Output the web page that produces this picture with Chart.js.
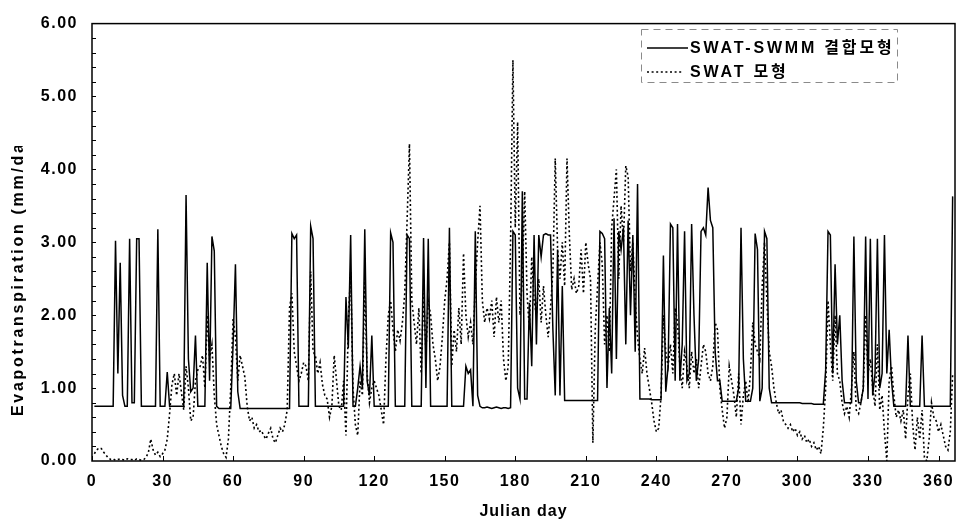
<!DOCTYPE html>
<html>
<head>
<meta charset="utf-8">
<script src="https://cdn.jsdelivr.net/npm/chart.js@4.4.0/dist/chart.umd.min.js"></script>
<style>
html, body { margin: 0; padding: 0; background: #fff; }
</style>
</head>
<body>
<canvas id="et" width="964" height="531"></canvas>
<script>
const seriesNames = ['SWAT-SWMM 결합모형', 'SWAT 모형'];
const xTickValues = [0, 30, 60, 90, 120, 150, 180, 210, 240, 270, 300, 330, 360];
const yTickValues = [0, 1, 2, 3, 4, 5, 6];

// daily values, Julian day 1..366
const etCoupled = [
    0.75,0.75,0.75,0.75,0.75,0.75,0.75,0.75,0.75,3.02,
    1.2,2.72,0.9,0.75,0.75,3.05,0.8,0.8,3.05,3.05,
    0.75,0.75,0.75,0.75,0.75,0.75,0.75,3.18,0.75,0.75,
    0.75,1.22,0.75,0.75,0.75,0.75,0.75,0.75,0.75,3.65,
    1.4,0.95,1.0,1.72,0.75,0.75,0.75,0.75,2.72,1.1,
    3.08,2.88,0.75,0.72,0.72,0.72,0.72,0.72,0.72,1.6,
    2.7,0.95,0.72,0.72,0.72,0.72,0.72,0.72,0.72,0.72,
    0.72,0.72,0.72,0.72,0.72,0.72,0.72,0.72,0.72,0.72,
    0.72,0.72,0.72,0.72,3.12,3.05,3.1,0.75,0.75,0.75,
    0.75,0.75,3.22,3.05,0.75,0.75,0.75,0.75,0.75,0.75,
    0.75,0.75,0.75,0.75,0.75,0.75,0.75,2.25,1.55,3.1,
    0.75,0.75,1.0,1.3,1.0,3.18,1.1,0.9,1.72,0.75,
    0.75,0.75,0.75,0.75,0.75,0.75,3.13,3.0,0.75,0.75,
    0.75,0.75,0.75,3.1,3.05,0.75,0.75,0.75,0.75,0.75,
    3.06,1.0,3.05,0.75,0.75,0.75,0.75,0.75,0.75,0.75,
    0.75,3.2,0.75,0.75,0.75,0.75,0.75,0.75,1.3,1.2,
    1.25,0.75,3.15,0.9,0.75,0.73,0.73,0.74,0.73,0.72,
    0.73,0.74,0.73,0.72,0.73,0.73,0.72,0.73,3.15,3.1,
    1.0,0.85,3.7,0.85,0.85,2.17,1.3,3.1,1.6,3.1,
    2.8,3.1,3.12,3.1,3.1,1.8,0.9,2.9,0.9,2.4,
    0.83,0.83,0.83,0.83,0.83,0.83,0.83,0.83,0.83,0.83,
    0.83,0.83,0.83,0.83,0.83,3.15,3.12,3.05,1.0,2.1,
    1.2,3.33,1.4,3.15,2.9,3.2,1.6,3.3,2.0,3.1,
    1.5,3.8,0.85,0.85,0.85,0.85,0.85,0.84,0.84,0.84,
    0.84,0.84,2.82,0.95,1.3,3.25,3.2,1.1,3.25,1.1,
    1.6,3.15,1.1,1.2,3.25,2.0,1.1,1.4,3.15,3.2,
    3.1,3.75,3.3,3.2,1.5,1.1,1.1,0.82,0.82,0.82,
    0.82,0.82,0.82,0.82,1.0,3.2,1.4,0.82,0.82,0.82,
    1.0,3.12,2.9,0.82,1.0,3.15,3.05,1.0,0.8,0.8,
    0.8,0.8,0.8,0.8,0.8,0.8,0.8,0.8,0.8,0.8,
    0.8,0.79,0.79,0.79,0.79,0.79,0.78,0.78,0.78,0.78,
    0.78,1.25,3.15,3.1,1.2,2.7,1.6,2.0,1.1,0.8,
    0.8,0.8,0.8,3.08,1.1,0.8,0.8,1.0,3.08,0.85,
    3.05,0.9,1.2,3.05,1.0,1.2,3.1,1.2,1.8,1.1,
    0.75,0.75,0.75,0.75,0.75,0.75,1.72,0.75,0.75,0.75,
    0.75,0.75,1.72,0.75,0.75,0.75,0.75,0.75,0.75,0.75,
    0.75,0.75,0.75,0.75,0.75,3.63
];

const etSwat = [
    0.1,0.15,0.18,0.17,0.12,0.08,0.04,0.02,0.03,0.01,
    0.02,0.03,0.02,0.01,0.03,0.02,0.02,0.01,0.03,0.02,
    0.01,0.02,0.05,0.12,0.3,0.15,0.08,0.12,0.06,0.1,
    0.15,0.3,0.65,1.05,1.2,0.9,1.2,0.95,0.7,1.3,
    1.0,0.55,0.6,1.1,1.25,1.3,1.45,1.0,2.0,1.4,
    1.6,0.9,0.5,0.35,0.2,0.1,0.05,0.3,1.0,1.95,
    1.7,1.1,1.45,1.3,1.15,0.75,0.55,0.6,0.45,0.5,
    0.4,0.42,0.35,0.3,0.38,0.45,0.3,0.25,0.35,0.45,
    0.4,0.5,0.7,2.1,2.3,1.5,1.3,1.1,1.2,1.35,
    1.3,1.1,2.6,1.5,1.45,1.2,1.35,1.05,0.9,0.85,
    0.6,0.75,1.45,1.1,0.75,0.7,1.1,0.35,1.9,2.6,
    1.0,0.5,0.35,1.1,0.9,2.5,1.2,0.8,1.0,1.1,
    1.0,0.9,0.7,0.5,1.4,2.0,2.2,1.8,1.5,1.8,
    1.65,1.9,2.3,3.3,4.35,2.2,1.9,1.6,2.1,1.2,
    2.3,1.5,2.2,2.0,1.6,1.4,1.1,1.3,1.7,2.2,
    2.5,3.0,1.3,1.8,1.5,2.1,1.6,2.85,2.0,1.7,
    1.9,1.6,2.4,3.0,3.5,2.2,1.9,2.1,1.95,2.2,
    1.7,2.25,1.9,2.2,1.4,1.1,1.3,3.0,5.5,3.2,
    4.65,2.0,2.5,3.7,2.3,1.8,2.8,2.2,2.0,2.5,
    1.9,2.4,2.0,1.7,2.1,2.6,4.15,2.9,2.5,3.0,
    2.4,4.15,3.1,2.35,2.5,2.3,2.4,2.9,2.3,3.0,
    2.7,2.5,0.25,1.8,2.4,3.0,2.7,1.6,2.0,1.5,
    3.2,3.6,4.0,2.5,3.5,3.0,4.05,3.9,2.6,3.0,
    2.2,1.7,1.4,1.2,1.55,1.2,1.0,0.8,0.55,0.4,
    0.45,0.9,2.0,1.5,1.3,1.6,1.2,2.1,1.9,1.3,
    1.0,1.5,1.3,1.0,1.5,1.2,1.4,1.0,1.3,1.6,
    1.5,1.2,1.1,1.3,1.9,1.8,1.0,0.7,0.45,0.6,
    1.3,1.1,0.9,0.6,1.2,0.5,0.9,1.1,0.8,1.2,
    1.9,1.6,1.5,1.4,2.4,3.0,2.2,1.5,1.3,1.0,
    0.8,0.65,0.7,0.55,0.5,0.45,0.5,0.4,0.45,0.35,
    0.4,0.3,0.35,0.25,0.3,0.2,0.25,0.15,0.2,0.1,
    0.45,1.0,2.2,1.6,1.1,2.0,1.2,1.1,0.8,0.65,
    0.75,0.6,1.0,1.5,0.7,0.65,0.8,1.0,2.0,1.2,
    1.4,1.0,0.75,1.6,0.7,0.9,0.4,0.0,1.1,1.3,
    0.9,0.6,0.7,0.55,0.7,0.3,0.9,1.2,0.5,0.15,
    0.6,0.3,0.7,0.05,0.0,0.3,0.8,0.6,0.55,0.4,
    0.5,0.35,0.2,0.15,0.4,1.2
];

const toPoints = arr => arr.map((v, i) => ({ x: i + 1, y: v }));

const boldSans = '"Liberation Sans", Arial, "Noto Sans CJK KR", sans-serif';
const boldNarrow = '"Liberation Sans Narrow", "Arial Narrow", "Liberation Sans", Arial, sans-serif';

// frame, inner tick marks, axis titles and the boxed legend
const decor = {
    id: 'decor',
    beforeDraw(chart) {
        const ctx = chart.ctx;
        ctx.letterSpacing = '1.5px';
        ctx.fillStyle = '#fff';
        ctx.fillRect(0, 0, chart.width, chart.height);
    },
    afterDraw(chart) {
        const ctx = chart.ctx;
        const a = chart.chartArea;
        const xs = chart.scales.x, ys = chart.scales.y;
        ctx.save();
        ctx.strokeStyle = '#000';
        ctx.lineWidth = 1.5;
        ctx.setLineDash([]);
        ctx.strokeRect(a.left, a.top, a.right - a.left, a.bottom - a.top);

        ctx.lineWidth = 1;
        ctx.beginPath();
        for (let v = 0.2; v < 6; v += 0.2) {
            const y = Math.round(ys.getPixelForValue(v)) + 0.5;
            ctx.moveTo(a.left, y);
            ctx.lineTo(a.left + 4, y);
        }
        xTickValues.forEach(v => {
            const x = Math.round(xs.getPixelForValue(v)) + 0.5;
            ctx.moveTo(x, a.bottom);
            ctx.lineTo(x, a.bottom - 5);
        });
        ctx.stroke();

        ctx.fillStyle = '#000';
        ctx.letterSpacing = '1px';
        ctx.font = 'bold 16px ' + boldNarrow;
        ctx.textAlign = 'center';
        ctx.textBaseline = 'middle';
        ctx.fillText('Julian day', (a.left + a.right) / 2, 512);

        // the y title is cut off at the top, as in the source figure
        ctx.save();
        ctx.beginPath();
        ctx.rect(0, 146, 60, 400);
        ctx.clip();
        ctx.translate(19, 416);
        ctx.rotate(-Math.PI / 2);
        ctx.letterSpacing = '2.7px';
        ctx.font = 'bold 16px ' + boldSans;
        ctx.textAlign = 'left';
        ctx.fillText('Evapotranspiration (mm/day)', 0, 0);
        ctx.restore();

        // legend box
        ctx.strokeStyle = '#8a8a8a';
        ctx.lineWidth = 1;
        ctx.setLineDash([7, 5]);
        ctx.strokeRect(641.5, 29.5, 256, 53);

        const rows = [48, 72];
        ctx.font = 'bold 16px ' + boldSans;
        ctx.letterSpacing = '2.8px';
        ctx.textAlign = 'left';
        chart.data.datasets.forEach((ds, i) => {
            const y = rows[i];
            ctx.strokeStyle = ds.borderColor;
            ctx.lineWidth = ds.borderWidth;
            ctx.setLineDash(ds.borderDash || []);
            ctx.beginPath();
            ctx.moveTo(647, y);
            ctx.lineTo(i === 0 ? 688 : 682, y);
            ctx.stroke();
            ctx.fillText(ds.label, 690, y + 1);
        });
        ctx.restore();
    }
};

const config = {
    type: 'line',
    data: {
        datasets: [{
            label: seriesNames[0],
            data: toPoints(etCoupled),
            borderColor: '#000',
            borderWidth: 1.5,
            pointRadius: 0,
            tension: 0,
            fill: false
        }, {
            label: seriesNames[1],
            data: toPoints(etSwat),
            borderColor: '#000',
            borderWidth: 1.6,
            borderDash: [2, 2.6],
            pointRadius: 0,
            tension: 0,
            fill: false
        }]
    },
    options: {
        responsive: false,
        animation: false,
        devicePixelRatio: 1,
        layout: { padding: { top: 15, right: 9, left: 0, bottom: 0 } },
        plugins: {
            legend: { display: false },
            tooltip: { enabled: false }
        },
        scales: {
            x: {
                type: 'linear',
                min: 0,
                max: 367,
                afterFit: s => { s.height = 70; },
                afterBuildTicks: s => { s.ticks = xTickValues.map(v => ({ value: v })); },
                grid: { display: false, drawTicks: false },
                border: { display: false },
                ticks: {
                    color: '#000',
                    padding: 11,
                    maxRotation: 0,
                    autoSkip: false,
                    font: { family: boldNarrow, size: 16, weight: 'bold' },
                    callback: v => String(v)
                }
            },
            y: {
                min: 0,
                max: 6,
                afterFit: s => { s.width = 92; },
                afterBuildTicks: s => { s.ticks = yTickValues.map(v => ({ value: v })); },
                grid: { display: false, drawTicks: false },
                border: { display: false },
                ticks: {
                    color: '#000',
                    padding: 14,
                    font: { family: boldSans, size: 16, weight: 'bold' },
                    callback: v => Number(v).toFixed(2)
                }
            }
        }
    },
    plugins: [decor]
};

const etChart = new Chart(document.getElementById('et').getContext('2d'), config);
</script>
</body>
</html>
